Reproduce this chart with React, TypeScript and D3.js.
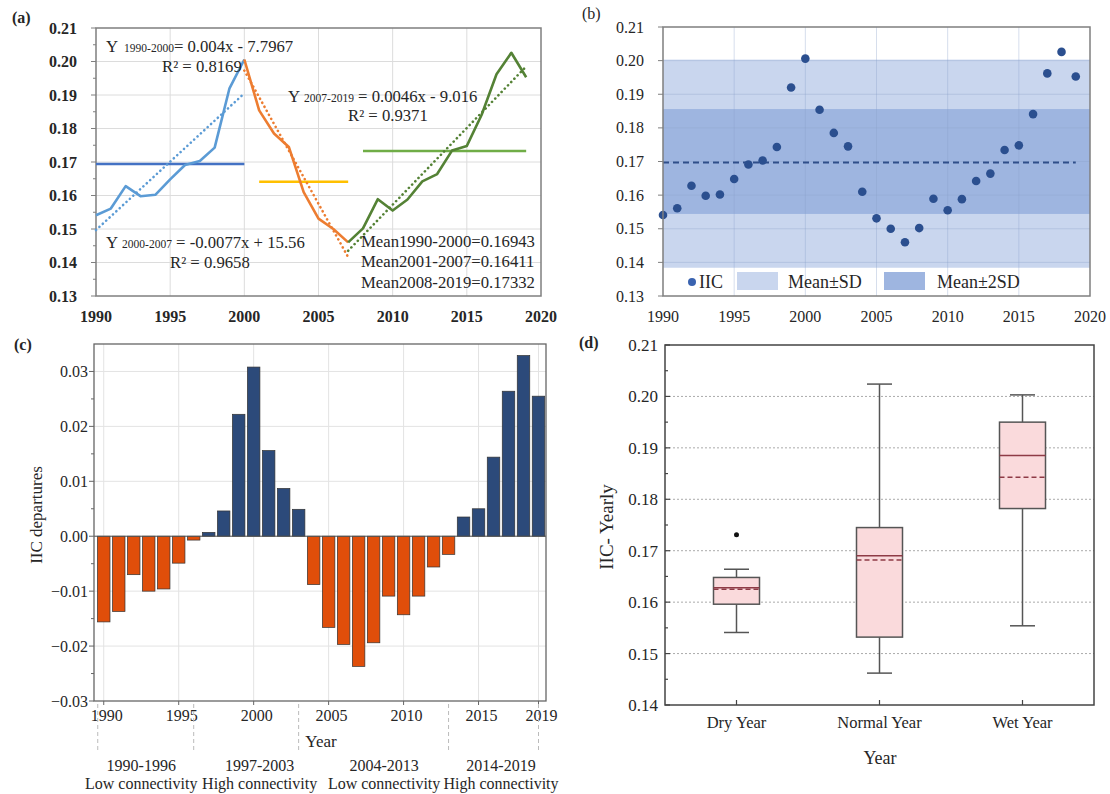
import React from 'react';
import * as d3 from 'd3';

// ---- data ----
const years = [1990, 1991, 1992, 1993, 1994, 1995, 1996, 1997, 1998, 1999, 2000, 2001, 2002, 2003, 2004,
  2005, 2006, 2007, 2008, 2009, 2010, 2011, 2012, 2013, 2014, 2015, 2016, 2017, 2018, 2019];

const iic = [0.1541, 0.1561, 0.1628, 0.1598, 0.1602, 0.1648, 0.1691, 0.1703, 0.1743, 0.1920, 0.2006,
  0.1854, 0.1785, 0.1745, 0.1610, 0.1531, 0.1500, 0.1460, 0.1502, 0.1589, 0.1555, 0.1588, 0.1642,
  0.1664, 0.1734, 0.1748, 0.1841, 0.1962, 0.2026, 0.1953];

const departures = [-0.0156, -0.0137, -0.0070, -0.0100, -0.0096, -0.0049, -0.0007, 0.0007, 0.0046,
  0.0222, 0.0308, 0.0156, 0.0087, 0.0049, -0.0088, -0.0166, -0.0197, -0.0237, -0.0194, -0.0109,
  -0.0143, -0.0109, -0.0056, -0.0033, 0.0035, 0.0050, 0.0144, 0.0264, 0.0329, 0.0255];

// (a) segments, means, trend lines
const segmentRanges = [[1990, 2000], [2000, 2007], [2007, 2019]];
const meanRanges = [[1990, 2000], [2001, 2007], [2008, 2019]];
const segmentMeans = [0.16943, 0.16411, 0.17332];
const trendStart = [0.1497, 0.1973, 0.1435];
const trendEnd = [0.1905, 0.1416, 0.1985];

// (b) bands
const meanAll = 0.1697;
const bandSD = [0.1384, 0.2003];
const band2SD = [0.1544, 0.1856];

// (c) periods
const periodEdges = [1989.6, 1996, 2003, 2013, 2019];
const periodYears = ['1990-1996', '1997-2003', '2004-2013', '2014-2019'];
const periodNames = ['Low connectivity', 'High connectivity', 'Low connectivity', 'High connectivity'];
const periodMid = [1992.5, 2000.4, 2008.7, 2016.5];
const cTicks = [1990, 1995, 2000, 2005, 2010, 2015, 2019];

// (d) box plots
const categories = ['Dry Year', 'Normal Year', 'Wet Year'];
const whiskerLow = [0.1541, 0.1462, 0.1554];
const q1 = [0.1596, 0.1532, 0.1782];
const median = [0.1628, 0.1690, 0.1885];
const meanBox = [0.1625, 0.1682, 0.1843];
const q3 = [0.1648, 0.1745, 0.1950];
const whiskerHigh = [0.1664, 0.2024, 0.2003];
const outliers = [[0.1731], [], []];

const FONT = '"Liberation Serif", "Times New Roman", serif';
const TXT = '#262626';
const lineColors = ['#5B9BD5', '#ED7D31', '#548235'];
const meanColors = ['#4472C4', '#FFC000', '#70AD47'];

const fmt2 = d3.format('.2f');

function PanelA() {
  const x = d3.scaleLinear().domain([1990, 2020]).range([96, 541]);
  const y = d3.scaleLinear().domain([0.13, 0.21]).range([296, 28]);
  const yt = d3.range(0.13, 0.2101, 0.01);
  const minor = d3.range(0.135, 0.21, 0.01);
  const xt = [1990, 1995, 2000, 2005, 2010, 2015, 2020];
  const line = d3.line<number>().x((d) => x(years[d])).y((d) => y(iic[d]));
  return (
    <g fontFamily={FONT} fill={TXT}>
      {yt.slice(1, -1).map((t) => (
        <line key={t} x1={x(1990)} x2={x(2020)} y1={y(t)} y2={y(t)} stroke="#dcdcdc" />
      ))}
      {xt.slice(1, -1).map((t) => (
        <line key={t} x1={x(t)} x2={x(t)} y1={y(0.13)} y2={y(0.21)} stroke="#dcdcdc" />
      ))}
      <rect x={x(1990)} y={y(0.21)} width={x(2020) - x(1990)} height={y(0.13) - y(0.21)} fill="none" stroke="#7f7f7f" strokeWidth={1.5} />
      {yt.map((t) => (
        <line key={t} x1={x(1990) - 5} x2={x(1990)} y1={y(t)} y2={y(t)} stroke="#7f7f7f" />
      ))}
      {minor.map((t) => (
        <line key={t} x1={x(1990) - 3} x2={x(1990)} y1={y(t)} y2={y(t)} stroke="#7f7f7f" />
      ))}
      {yt.map((t) => (
        <text key={t} x={x(1990) - 19} y={y(t)} dy="0.35em" textAnchor="end" fontSize={16} fontWeight="bold">{fmt2(t)}</text>
      ))}
      {xt.map((t) => (
        <text key={t} x={x(t)} y={322} textAnchor="middle" fontSize={16} fontWeight="bold">{t}</text>
      ))}
      {/* mean lines */}
      {meanRanges.map((r, i) => (
        <line key={i} x1={x(r[0])} x2={x(r[1])} y1={y(segmentMeans[i])} y2={y(segmentMeans[i])} stroke={meanColors[i]} strokeWidth={2.5} />
      ))}
      {/* data segments */}
      {segmentRanges.map((r, i) => {
        const idx = years.map((_, k) => k).filter((k) => years[k] >= r[0] && years[k] <= r[1]);
        return <path key={i} d={line(idx) || ''} fill="none" stroke={lineColors[i]} strokeWidth={2.6} strokeLinejoin="round" />;
      })}
      {/* trend lines */}
      {segmentRanges.map((r, i) => (
        <line key={i} x1={x(r[0])} x2={x(r[1])} y1={y(trendStart[i])} y2={y(trendEnd[i])} stroke={lineColors[i]} strokeWidth={2.6} strokeDasharray="0.1 4.5" strokeLinecap="round" />
      ))}
      <g fontSize={16.7}>
        <text x={106} y={52}>Y<tspan fontSize={11.5} dx={6}>1990-2000</tspan><tspan>= 0.004x - 7.7967</tspan></text>
        <text x={162} y={72}>R² = 0.8169</text>
        <text x={288} y={102}>Y<tspan fontSize={11.5} dx={4}>2007-2019</tspan><tspan> = 0.0046x - 9.016</tspan></text>
        <text x={348} y={121}>R² = 0.9371</text>
        <text x={106} y={248}>Y<tspan fontSize={11.5} dx={4}>2000-2007</tspan><tspan> = -0.0077x + 15.56</tspan></text>
        <text x={170} y={268}>R² = 0.9658</text>
        <text x={361} y={247}>Mean1990-2000=0.16943</text>
        <text x={361} y={267}>Mean2001-2007=0.16411</text>
        <text x={361} y={288}>Mean2008-2019=0.17332</text>
      </g>
      <text x={12} y={23} fontSize={16} fontWeight="bold">(a)</text>
    </g>
  );
}

function PanelB() {
  const x = d3.scaleLinear().domain([1990, 2020]).range([663, 1090]);
  const y = d3.scaleLinear().domain([0.13, 0.21]).range([296, 27]);
  const yt = d3.range(0.13, 0.2101, 0.01);
  const xt = [1990, 1995, 2000, 2005, 2010, 2015, 2020];
  return (
    <g fontFamily={FONT} fill={TXT}>
      <rect x={x(1990)} y={y(bandSD[1])} width={x(2020) - x(1990)} height={y(bandSD[0]) - y(bandSD[1])} fill="#C9D6EE" />
      <rect x={x(1990)} y={y(band2SD[1])} width={x(2020) - x(1990)} height={y(band2SD[0]) - y(band2SD[1])} fill="#9EB5E0" />
      {yt.slice(1, -1).map((t) => (
        <line key={t} x1={x(1990)} x2={x(2020)} y1={y(t)} y2={y(t)} stroke="#8aa0c8" strokeOpacity={0.35} />
      ))}
      {xt.slice(1, -1).map((t) => (
        <line key={t} x1={x(t)} x2={x(t)} y1={y(0.13)} y2={y(0.21)} stroke="#8aa0c8" strokeOpacity={0.35} />
      ))}
      <line x1={x(1990)} x2={x(2019)} y1={y(meanAll)} y2={y(meanAll)} stroke="#2F4E8A" strokeWidth={2} strokeDasharray="6 4" />
      {years.map((yr, i) => (
        <circle key={yr} cx={x(yr)} cy={y(iic[i])} r={4.3} fill="#2B4F8F" />
      ))}
      <rect x={x(1990)} y={y(0.21)} width={x(2020) - x(1990)} height={y(0.13) - y(0.21)} fill="none" stroke="#7f7f7f" strokeWidth={1.5} />
      {yt.map((t) => (
        <line key={t} x1={x(1990) - 5} x2={x(1990)} y1={y(t)} y2={y(t)} stroke="#7f7f7f" />
      ))}
      {yt.map((t) => (
        <text key={t} x={x(1990) - 19} y={y(t)} dy="0.35em" textAnchor="end" fontSize={16}>{fmt2(t)}</text>
      ))}
      {xt.map((t) => (
        <text key={t} x={x(t)} y={322} textAnchor="middle" fontSize={16}>{t}</text>
      ))}
      {/* legend */}
      <circle cx={692} cy={282} r={4} fill="#3A63B0" />
      <text x={699} y={288} fontSize={18}>IIC</text>
      <rect x={737} y={272} width={41} height={18} fill="#C9D6EE" />
      <text x={788} y={288} fontSize={18}>Mean±SD</text>
      <rect x={884} y={272} width={41} height={18} fill="#9EB5E0" />
      <text x={937} y={288} fontSize={18}>Mean±2SD</text>
      <text x={582} y={19} fontSize={16}>(b)</text>
    </g>
  );
}

function PanelC() {
  const x = d3.scaleLinear().domain([1989.35, 2019.5]).range([94, 546]);
  const y = d3.scaleLinear().domain([-0.03, 0.035]).range([701, 344]);
  const yt = d3.range(-0.03, 0.0301, 0.01);
  const minor = d3.range(-0.025, 0.035, 0.01);
  const bw = 12.5;
  return (
    <g fontFamily={FONT} fill={TXT}>
      {yt.slice(1).map((t) => (
        <line key={t} x1={x.range()[0]} x2={x.range()[1]} y1={y(t)} y2={y(t)} stroke="#e3e3e3" />
      ))}
      {cTicks.map((t) => (
        <line key={t} x1={x(t)} x2={x(t)} y1={y(-0.03)} y2={y(0.035)} stroke="#e3e3e3" />
      ))}
      {years.map((yr, i) => {
        const v = departures[i];
        return (
          <rect key={yr} x={x(yr) - bw / 2} y={y(Math.max(0, v))} width={bw} height={Math.abs(y(v) - y(0))}
            fill={v >= 0 ? '#2C4A7A' : '#E04E0A'} stroke="#333" strokeWidth={0.7} />
        );
      })}
      <line x1={x.range()[0]} x2={x.range()[1]} y1={y(0)} y2={y(0)} stroke="#555" strokeWidth={1} />
      <rect x={x.range()[0]} y={y(0.035)} width={x.range()[1] - x.range()[0]} height={y(-0.03) - y(0.035)} fill="none" stroke="#666" strokeWidth={1.3} />
      {yt.map((t) => (
        <line key={t} x1={x.range()[0] - 5} x2={x.range()[0]} y1={y(t)} y2={y(t)} stroke="#666" />
      ))}
      {minor.map((t) => (
        <line key={t} x1={x.range()[0] - 3} x2={x.range()[0]} y1={y(t)} y2={y(t)} stroke="#666" />
      ))}
      {cTicks.map((t) => (
        <line key={t} x1={x(t)} x2={x(t)} y1={y(-0.03)} y2={y(-0.03) + 4} stroke="#666" />
      ))}
      {yt.map((t) => (
        <text key={t} x={88} y={y(t)} dy="0.35em" textAnchor="end" fontSize={16}>{fmt2(t)}</text>
      ))}
      {cTicks.map((t) => (
        <text key={t} x={x(t) + 3} y={721} textAnchor="middle" fontSize={16}>{t}</text>
      ))}
      {periodEdges.map((e) => (
        <line key={e} x1={x(e)} x2={x(e)} y1={704} y2={750} stroke="#bbb" strokeDasharray="4 3" />
      ))}
      {periodYears.map((p, i) => (
        <text key={i} x={x(periodMid[i])} y={771} textAnchor="middle" fontSize={16}>{p}</text>
      ))}
      {periodNames.map((p, i) => (
        <text key={i} x={x(periodMid[i])} y={789} textAnchor="middle" fontSize={16}>{p}</text>
      ))}
      <text x={321} y={747} textAnchor="middle" fontSize={17}>Year</text>
      <text transform="translate(42,515) rotate(-90)" textAnchor="middle" fontSize={17}>IIC departures</text>
      <text x={14} y={350} fontSize={16} fontWeight="bold">(c)</text>
    </g>
  );
}

function PanelD() {
  const x = d3.scaleBand<string>().domain(categories).range([665, 1094]);
  const y = d3.scaleLinear().domain([0.14, 0.21]).range([705, 345]);
  const yt = d3.range(0.14, 0.2101, 0.01);
  const minor = d3.range(0.145, 0.21, 0.01);
  const boxW = 46;
  const capW = 25;
  const box = '#555';
  const med = '#8E3B46';
  return (
    <g fontFamily={FONT} fill={TXT}>
      {yt.slice(1, -1).map((t) => (
        <line key={t} x1={665} x2={1094} y1={y(t)} y2={y(t)} stroke="#aaa" strokeDasharray="2 2" />
      ))}
      {categories.map((c, i) => {
        const cx = (x(c) || 0) + x.bandwidth() / 2;
        return (
          <g key={c}>
            <line x1={cx} x2={cx} y1={y(whiskerLow[i])} y2={y(q1[i])} stroke={box} strokeWidth={1.5} />
            <line x1={cx} x2={cx} y1={y(q3[i])} y2={y(whiskerHigh[i])} stroke={box} strokeWidth={1.5} />
            <line x1={cx - capW / 2} x2={cx + capW / 2} y1={y(whiskerLow[i])} y2={y(whiskerLow[i])} stroke={box} strokeWidth={1.5} />
            <line x1={cx - capW / 2} x2={cx + capW / 2} y1={y(whiskerHigh[i])} y2={y(whiskerHigh[i])} stroke={box} strokeWidth={1.5} />
            <rect x={cx - boxW / 2} y={y(q3[i])} width={boxW} height={y(q1[i]) - y(q3[i])} fill="#FADADC" stroke={box} strokeWidth={1.5} />
            <line x1={cx - boxW / 2} x2={cx + boxW / 2} y1={y(median[i])} y2={y(median[i])} stroke={med} strokeWidth={1.5} />
            <line x1={cx - boxW / 2} x2={cx + boxW / 2} y1={y(meanBox[i])} y2={y(meanBox[i])} stroke={med} strokeWidth={1.5} strokeDasharray="5 3" />
            {outliers[i].map((o) => (
              <circle key={o} cx={cx} cy={y(o)} r={2.5} fill="#111" />
            ))}
            <line x1={cx} x2={cx} y1={705} y2={700} stroke="#444" strokeWidth={1.2} />
            <text x={cx} y={728} textAnchor="middle" fontSize={16.5}>{c}</text>
          </g>
        );
      })}
      <rect x={665} y={345} width={429} height={360} fill="none" stroke="#444" strokeWidth={1.5} />
      {yt.map((t) => (
        <line key={t} x1={665} x2={670} y1={y(t)} y2={y(t)} stroke="#444" strokeWidth={1.2} />
      ))}
      {minor.map((t) => (
        <line key={t} x1={665} x2={668} y1={y(t)} y2={y(t)} stroke="#444" strokeWidth={1.2} />
      ))}
      {yt.map((t) => (
        <text key={t} x={658} y={y(t)} dy="0.35em" textAnchor="end" fontSize={17}>{fmt2(t)}</text>
      ))}
      <text x={880} y={764} textAnchor="middle" fontSize={18}>Year</text>
      <text transform="translate(613,527) rotate(-90)" textAnchor="middle" fontSize={19}>IIC- Yearly</text>
      <text x={579} y={348} fontSize={16} fontWeight="bold">(d)</text>
    </g>
  );
}

export default function App() {
  return (
    <svg width={1110} height={794} style={{ position: 'absolute', left: 0, top: 0, background: '#fff' }}>
      <rect width={1110} height={794} fill="#fff" />
      <PanelA />
      <PanelB />
      <PanelC />
      <PanelD />
    </svg>
  );
}
